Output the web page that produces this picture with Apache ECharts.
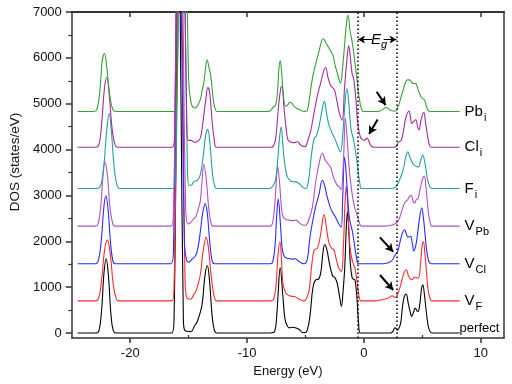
<!DOCTYPE html>
<html><head><meta charset="utf-8">
<script src="https://cdn.jsdelivr.net/npm/echarts@6/dist/echarts.min.js"></script>
<style>html,body{margin:0;padding:0;background:#fff}#c{width:512px;height:384px}</style>
</head><body><div id="c"></div>
<script>
// Axis ticks
const energyTicks = [-20, -10, 0, 10];
const energyMinorTicks = [-15, -5, 5];
const energyTopTicks = [-20, -10, 0, 10];
const dosTicks = [0, 1000, 2000, 3000, 4000, 5000, 6000, 7000];
const dosMinorTicks = [500, 1500, 2500, 3500, 4500, 5500, 6500];

// Curves: names, vertical offsets (states/eV), [energy, DOS] pairs
const labelMain = ['perfect', 'V', 'V', 'V', 'F', 'Cl', 'Pb'];
const labelSub  = ['', 'F', 'Cl', 'Pb', 'i', 'i', 'i'];
const curveOffsets = [0, 700, 1510, 2330, 3150, 4050, 4830];

const perfectDOS = [[-24.5,0],[-23.0,0],[-22.7,30],[-22.45,500],[-22.25,1300],[-22.06,1620],[-21.85,1200],[-21.65,400],[-21.45,50],[-21.2,0],[-16.45,0],[-16.25,300],[-16.05,5000],[-15.85,9500],[-15.65,5000],[-15.45,300],[-15.3,50],[-14.8,30],[-14.5,150],[-14.26,250],[-14.0,450],[-13.83,650],[-13.6,1250],[-13.4,1470],[-13.2,1100],[-13.0,400],[-12.8,60],[-12.6,0],[-8.0,0],[-7.63,40],[-7.45,400],[-7.35,800],[-7.16,1420],[-6.93,800],[-6.75,300],[-6.55,150],[-6.37,110],[-6.1,125],[-5.8,110],[-5.52,75],[-5.25,10],[-5.0,10],[-4.8,100],[-4.6,400],[-4.35,1000],[-4.1,1160],[-3.9,1170],[-3.69,1310],[-3.5,1750],[-3.35,1930],[-3.15,1800],[-2.98,1560],[-2.8,1350],[-2.65,1240],[-2.45,1200],[-2.25,1050],[-2.08,800],[-1.92,580],[-1.78,900],[-1.64,1400],[-1.5,2300],[-1.4,2650],[-1.28,2200],[-1.16,1530],[-1.0,1200],[-0.85,1170],[-0.75,1150],[-0.6,800],[-0.45,220],[-0.3,0],[2.3,0],[2.5,40],[2.65,110],[2.75,100],[2.87,60],[3.0,100],[3.16,220],[3.3,550],[3.45,780],[3.62,850],[3.8,650],[3.95,480],[4.1,360],[4.25,450],[4.4,545],[4.55,480],[4.65,470],[4.8,650],[4.95,980],[5.05,1050],[5.18,850],[5.33,500],[5.45,250],[5.55,110],[5.7,20],[5.85,0],[8.2,0]];

const vfDOS = [[-24.5,0],[-23.0,0],[-22.7,60],[-22.45,450],[-22.2,1100],[-21.95,1330],[-21.7,1000],[-21.45,350],[-21.2,50],[-21.0,0],[-16.45,0],[-16.25,300],[-16.0,5000],[-15.75,9500],[-15.5,5000],[-15.3,400],[-15.1,50],[-14.8,40],[-14.6,120],[-14.4,200],[-14.2,350],[-14.0,570],[-13.75,1100],[-13.5,1390],[-13.3,1150],[-13.05,500],[-12.8,80],[-12.6,0],[-8.0,0],[-7.7,50],[-7.5,400],[-7.35,1000],[-7.18,1290],[-7.05,900],[-6.93,390],[-6.7,180],[-6.5,130],[-6.2,100],[-5.94,95],[-5.7,60],[-5.4,20],[-5.1,0],[-4.9,60],[-4.68,240],[-4.45,800],[-4.25,1110],[-3.97,1150],[-3.7,1450],[-3.4,1880],[-3.2,1600],[-2.98,1260],[-2.75,1150],[-2.56,1110],[-2.35,900],[-2.14,710],[-1.92,640],[-1.75,1200],[-1.6,2200],[-1.5,2500],[-1.38,2100],[-1.2,1200],[-1.0,890],[-0.85,780],[-0.73,680],[-0.6,450],[-0.5,240],[-0.35,30],[-0.25,0],[1.0,0],[1.7,36],[2.1,60],[2.43,110],[2.65,75],[2.8,100],[2.93,170],[3.1,300],[3.27,460],[3.45,620],[3.64,680],[3.8,560],[3.92,495],[4.1,460],[4.25,500],[4.4,515],[4.55,505],[4.68,495],[4.85,800],[5.0,1220],[5.1,1290],[5.22,1050],[5.33,750],[5.45,350],[5.55,170],[5.7,30],[5.8,0],[8.2,0]];

const vclDOS = [[-24.5,0],[-23.0,0],[-22.75,50],[-22.5,450],[-22.25,1250],[-22.09,1480],[-21.9,1200],[-21.7,500],[-21.5,80],[-21.3,0],[-16.5,0],[-16.3,300],[-16.1,5000],[-15.9,9500],[-15.6,5000],[-15.35,400],[-15.15,50],[-15.0,35],[-14.7,100],[-14.4,180],[-14.2,350],[-14.0,690],[-13.8,1100],[-13.58,1310],[-13.4,1100],[-13.2,500],[-13.0,80],[-12.8,0],[-8.0,0],[-7.8,40],[-7.6,400],[-7.47,1000],[-7.33,1410],[-7.15,900],[-7.0,350],[-6.85,180],[-6.6,120],[-6.3,110],[-6.1,100],[-5.9,110],[-5.6,60],[-5.3,10],[-5.1,0],[-4.95,20],[-4.8,150],[-4.6,600],[-4.4,900],[-4.12,1250],[-3.85,1500],[-3.55,1820],[-3.35,1700],[-3.13,1450],[-2.9,1250],[-2.7,1130],[-2.5,1050],[-2.28,940],[-2.1,850],[-1.94,800],[-1.8,1500],[-1.66,2320],[-1.55,2100],[-1.44,1670],[-1.24,1000],[-1.0,730],[-0.85,500],[-0.73,290],[-0.6,100],[-0.45,0],[1.7,0],[2.2,30],[2.43,75],[2.65,180],[2.8,230],[2.93,290],[3.05,420],[3.2,580],[3.35,700],[3.5,740],[3.65,640],[3.78,580],[3.9,590],[4.0,600],[4.15,450],[4.28,280],[4.45,400],[4.6,650],[4.8,1050],[4.96,1220],[5.1,1000],[5.24,650],[5.35,350],[5.47,145],[5.6,30],[5.75,0],[8.2,0]];

const vpbDOS = [[-24.5,0],[-23.0,0],[-22.75,50],[-22.5,500],[-22.3,1200],[-22.15,1400],[-21.95,1100],[-21.75,450],[-21.5,60],[-21.3,0],[-16.5,0],[-16.3,300],[-16.05,5000],[-15.8,9500],[-15.5,5000],[-15.25,400],[-15.05,50],[-14.9,60],[-14.6,150],[-14.4,200],[-14.2,350],[-14.0,550],[-13.85,1000],[-13.7,1350],[-13.5,1050],[-13.3,450],[-13.1,80],[-12.9,0],[-8.1,0],[-7.85,40],[-7.65,400],[-7.5,950],[-7.38,1300],[-7.2,900],[-7.05,400],[-6.9,200],[-6.6,140],[-6.37,130],[-6.1,120],[-5.8,130],[-5.5,70],[-5.2,20],[-5.0,20],[-4.7,150],[-4.4,420],[-4.1,1000],[-3.8,1400],[-3.55,1590],[-3.3,1440],[-3.05,1350],[-2.85,1290],[-2.56,1040],[-2.3,900],[-2.14,860],[-1.95,800],[-1.75,1400],[-1.58,2350],[-1.45,2000],[-1.24,1220],[-1.05,800],[-0.87,500],[-0.65,300],[-0.45,130],[-0.3,20],[-0.15,0],[1.8,0],[2.3,20],[2.65,45],[2.93,115],[3.15,250],[3.36,420],[3.55,530],[3.7,560],[3.9,640],[4.06,670],[4.2,560],[4.34,500],[4.5,580],[4.65,600],[4.85,850],[5.05,1050],[5.18,1090],[5.3,900],[5.45,500],[5.55,250],[5.7,60],[5.85,0],[8.2,0]];

const fiDOS = [[-24.5,0],[-23.0,0],[-22.6,30],[-22.3,400],[-22.0,1300],[-21.8,1640],[-21.6,1200],[-21.35,400],[-21.1,40],[-20.9,0],[-16.3,0],[-16.1,300],[-15.85,5000],[-15.6,9500],[-15.35,5000],[-15.1,400],[-14.95,70],[-14.8,70],[-14.55,150],[-14.26,180],[-14.0,300],[-13.75,700],[-13.55,1150],[-13.36,1290],[-13.15,900],[-12.95,300],[-12.75,40],[-12.6,0],[-8.1,0],[-7.8,50],[-7.55,200],[-7.35,700],[-7.2,1150],[-7.07,1340],[-6.95,1000],[-6.8,600],[-6.6,300],[-6.35,180],[-6.1,150],[-5.8,145],[-5.55,110],[-5.2,20],[-4.96,0],[-4.75,150],[-4.5,700],[-4.25,1100],[-4.05,1150],[-3.8,1400],[-3.55,1750],[-3.38,1900],[-3.2,1650],[-3.0,1400],[-2.7,1200],[-2.42,1050],[-2.2,900],[-2.0,800],[-1.8,1200],[-1.6,1900],[-1.45,2180],[-1.3,1900],[-1.1,1300],[-0.87,1050],[-0.6,620],[-0.45,300],[-0.34,110],[-0.2,0],[2.2,0],[2.65,15],[2.93,110],[3.15,250],[3.36,400],[3.6,700],[3.78,800],[3.92,700],[4.06,620],[4.2,540],[4.34,510],[4.5,480],[4.68,470],[4.85,600],[5.05,730],[5.2,600],[5.33,400],[5.45,200],[5.6,75],[5.75,10],[5.9,0],[8.2,0]];

const cliDOS = [[-24.5,0],[-23.0,0],[-22.7,40],[-22.45,500],[-22.2,1300],[-22.0,1520],[-21.8,1150],[-21.55,400],[-21.3,50],[-21.1,0],[-16.4,0],[-16.2,300],[-15.95,5000],[-15.7,9500],[-15.4,5000],[-15.15,400],[-15.0,150],[-14.8,150],[-14.5,110],[-14.3,120],[-14.0,200],[-13.8,500],[-13.55,1000],[-13.35,1300],[-13.2,1200],[-13.0,600],[-12.8,150],[-12.6,0],[-8.0,0],[-7.7,40],[-7.5,300],[-7.3,900],[-7.1,1300],[-7.0,1330],[-6.85,900],[-6.65,400],[-6.5,160],[-6.3,120],[-6.05,100],[-5.8,110],[-5.66,120],[-5.45,60],[-5.24,20],[-5.0,20],[-4.8,150],[-4.54,370],[-4.3,700],[-4.0,1100],[-3.7,1400],[-3.45,1650],[-3.27,1740],[-3.05,1500],[-2.85,1350],[-2.7,1310],[-2.5,1240],[-2.3,1000],[-2.1,750],[-1.86,590],[-1.65,1300],[-1.45,1900],[-1.3,2220],[-1.15,1950],[-1.0,1600],[-0.87,1500],[-0.7,1100],[-0.55,600],[-0.45,400],[-0.3,230],[-0.15,170],[0.05,150],[0.25,200],[0.4,150],[0.55,60],[0.7,10],[0.85,0],[2.5,0],[2.8,20],[2.98,115],[3.2,150],[3.4,370],[3.6,650],[3.86,790],[4.0,650],[4.1,520],[4.25,560],[4.45,600],[4.6,450],[4.72,380],[4.9,600],[5.13,760],[5.3,500],[5.47,230],[5.6,60],[5.75,0],[8.2,0]];

const pbiDOS = [[-24.5,0],[-23.1,0],[-22.85,50],[-22.6,450],[-22.4,1100],[-22.2,1265],[-22.0,950],[-21.75,350],[-21.5,50],[-21.2,0],[-16.2,0],[-16.0,300],[-15.75,5000],[-15.5,9500],[-15.25,5000],[-15.0,700],[-14.8,200],[-14.6,90],[-14.4,80],[-14.2,150],[-14.0,260],[-13.85,450],[-13.7,625],[-13.55,950],[-13.42,1130],[-13.25,950],[-13.1,770],[-12.95,400],[-12.85,190],[-12.7,40],[-12.57,0],[-8.3,0],[-8.05,10],[-7.8,80],[-7.55,145],[-7.4,400],[-7.28,900],[-7.16,1105],[-7.05,900],[-6.9,400],[-6.7,110],[-6.5,150],[-6.35,196],[-6.2,190],[-6.0,120],[-5.8,75],[-5.5,40],[-5.1,0],[-4.85,20],[-4.65,300],[-4.4,730],[-4.1,1054],[-3.85,1300],[-3.6,1550],[-3.47,1585],[-3.25,1500],[-2.98,1381],[-2.8,1300],[-2.65,1236],[-2.45,1000],[-2.2,780],[-2.0,618],[-1.8,1000],[-1.6,1600],[-1.45,2000],[-1.35,2100],[-1.2,1800],[-0.96,1454],[-0.78,1100],[-0.6,727],[-0.4,300],[-0.2,50],[-0.05,0],[1.2,0],[1.38,10],[1.6,40],[1.8,80],[1.94,87],[2.15,50],[2.4,15],[2.65,5],[2.85,60],[3.0,150],[3.2,327],[3.4,500],[3.6,654],[3.75,690],[3.9,690],[4.05,650],[4.2,618],[4.35,610],[4.48,603],[4.62,500],[4.76,400],[4.95,300],[5.18,254],[5.35,120],[5.47,36],[5.6,5],[5.75,0],[8.2,0]];

const curveData = [perfectDOS, vfDOS, vclDOS, vpbDOS, fiDOS, cliDOS, pbiDOS];
const curveColors = ['#000000', '#ff2a2a', '#2a2aff', '#b050c8', '#20a0a0', '#a42aa4', '#36a036'];

// Band-gap edges (eV)
const gapEdges = [-0.5, 2.8];

const FONT = 'Liberation Sans, Arial, sans-serif';
const axisCol = '#333';

const series = curveData.map((d, i) => ({
  type: 'line',
  data: d.map(p => [p[0], p[1] + curveOffsets[i]]),
  showSymbol: false,
  symbol: 'none',
  smooth: 0.4,
  clip: true,
  silent: true,
  animation: false,
  lineStyle: { color: curveColors[i], width: 1.1 },
  itemStyle: { color: curveColors[i] },
  endLabel: {
    show: true,
    distance: 5,
    offset: i === 0 ? [-5, -5] : [0, 0],
    formatter: () => labelSub[i] ? '{m|' + labelMain[i] + '}{s|' + labelSub[i] + '}' : '{p|' + labelMain[i] + '}',
    rich: {
      m: { fontSize: 15, fontFamily: FONT, color: '#000', lineHeight: 16 },
      s: { fontSize: 11, fontFamily: FONT, color: '#000', lineHeight: 11, padding: [12, 0, 0, 1] },
      p: { fontSize: 13, fontFamily: FONT, color: '#000' }
    }
  }
}));

// annotations on the first series
series[0].markLine = {
  silent: true,
  animation: false,
  symbol: ['none', 'none'],
  label: { show: false },
  lineStyle: { color: '#000', width: 1.5, type: [1.5, 2.5] },
  data: [
    { xAxis: gapEdges[0] },
    { xAxis: gapEdges[1] },
    [{ coord: [gapEdges[0], 6400], symbol: 'arrow', symbolSize: [6, 7], lineStyle: { type: 'solid', width: 1 } }, { coord: [0.7, 6400], symbol: 'none' }],
    [{ coord: [1.7, 6400], symbol: 'none', lineStyle: { type: 'solid', width: 1 } }, { coord: [gapEdges[1], 6400], symbol: 'arrow', symbolSize: [6, 7] }],
    [{ coord: [1.1, 5260], symbol: 'none', lineStyle: { type: 'solid', width: 2 } }, { coord: [1.86, 4970], symbol: 'arrow', symbolSize: [7, 8] }],
    [{ coord: [1.18, 4658], symbol: 'none', lineStyle: { type: 'solid', width: 2 } }, { coord: [0.45, 4338], symbol: 'arrow', symbolSize: [7, 8] }],
    [{ coord: [1.38, 2086], symbol: 'none', lineStyle: { type: 'solid', width: 2 } }, { coord: [2.51, 1772], symbol: 'arrow', symbolSize: [7, 8] }],
    [{ coord: [1.38, 1264], symbol: 'none', lineStyle: { type: 'solid', width: 2 } }, { coord: [2.51, 937], symbol: 'arrow', symbolSize: [7, 8] }]
  ]
};
series[0].markPoint = {
  silent: true,
  animation: false,
  symbol: 'circle',
  symbolSize: 1,
  itemStyle: { color: 'rgba(0,0,0,0)' },
  data: [{ coord: [1.3, 6400] }],
  label: {
    show: true,
    position: 'inside',
    formatter: '{e|E}{g|g}',
    rich: {
      e: { fontSize: 15, fontStyle: 'italic', fontFamily: FONT, color: '#000', lineHeight: 16 },
      g: { fontSize: 11, fontStyle: 'italic', fontFamily: FONT, color: '#000', lineHeight: 11, padding: [11, 0, 0, 0] }
    }
  }
};

const baseX = { type: 'value', min: -25, max: 12, splitLine: { show: false } };
const baseY = { type: 'value', min: -110, max: 7000, splitLine: { show: false } };
const plain = v => String(v);

const option = {
  animation: false,
  backgroundColor: '#fff',
  grid: { left: 67, right: 8, top: 12, bottom: 46, containLabel: false },
  xAxis: [
    Object.assign({}, baseX, {
      position: 'bottom',
      axisLine: { show: true, onZero: false, lineStyle: { color: axisCol, width: 1.5 } },
      axisTick: { show: true, customValues: energyTicks, length: 5, inside: false, lineStyle: { color: axisCol, width: 1.5 } },
      axisLabel: { customValues: energyTicks, formatter: plain, margin: 9, fontSize: 13, color: '#111', fontFamily: FONT },
      name: 'Energy (eV)', nameLocation: 'middle', nameGap: 27,
      nameTextStyle: { fontSize: 13, color: '#111', fontFamily: FONT }
    }),
    Object.assign({}, baseX, {
      position: 'bottom',
      axisLine: { show: false, onZero: false },
      axisTick: { show: true, customValues: energyMinorTicks, length: 3, inside: true, lineStyle: { color: axisCol, width: 1.2 } },
      axisLabel: { show: false }
    }),
    Object.assign({}, baseX, {
      position: 'top',
      axisLine: { show: true, onZero: false, lineStyle: { color: axisCol, width: 2 } },
      axisTick: { show: true, customValues: energyTopTicks, length: 5, inside: true, lineStyle: { color: axisCol, width: 1.5 } },
      axisLabel: { show: false }
    })
  ],
  yAxis: [
    Object.assign({}, baseY, {
      position: 'left',
      axisLine: { show: true, onZero: false, lineStyle: { color: axisCol, width: 1.5 } },
      axisTick: { show: true, customValues: dosTicks, length: 6, inside: false, lineStyle: { color: axisCol, width: 1.5 } },
      axisLabel: { customValues: dosTicks, formatter: plain, margin: 10, fontSize: 13, color: '#111', fontFamily: FONT },
      name: 'DOS (states/eV)', nameLocation: 'middle', nameGap: 47, nameRotate: 90,
      nameTextStyle: { fontSize: 13.5, color: '#111', fontFamily: FONT, padding: [0, 0, 0, 26] }
    }),
    Object.assign({}, baseY, {
      position: 'left',
      axisLine: { show: false, onZero: false },
      axisTick: { show: true, customValues: dosMinorTicks, length: 3.5, inside: false, lineStyle: { color: axisCol, width: 1.2 } },
      axisLabel: { show: false }
    }),
    Object.assign({}, baseY, {
      position: 'right',
      axisLine: { show: true, onZero: false, lineStyle: { color: axisCol, width: 1.5 } },
      axisTick: { show: false },
      axisLabel: { show: false }
    })
  ],
  series: series
};

const chart = echarts.init(document.getElementById('c'), null, { renderer: 'canvas' });
chart.setOption(option);
</script>
</body></html>
